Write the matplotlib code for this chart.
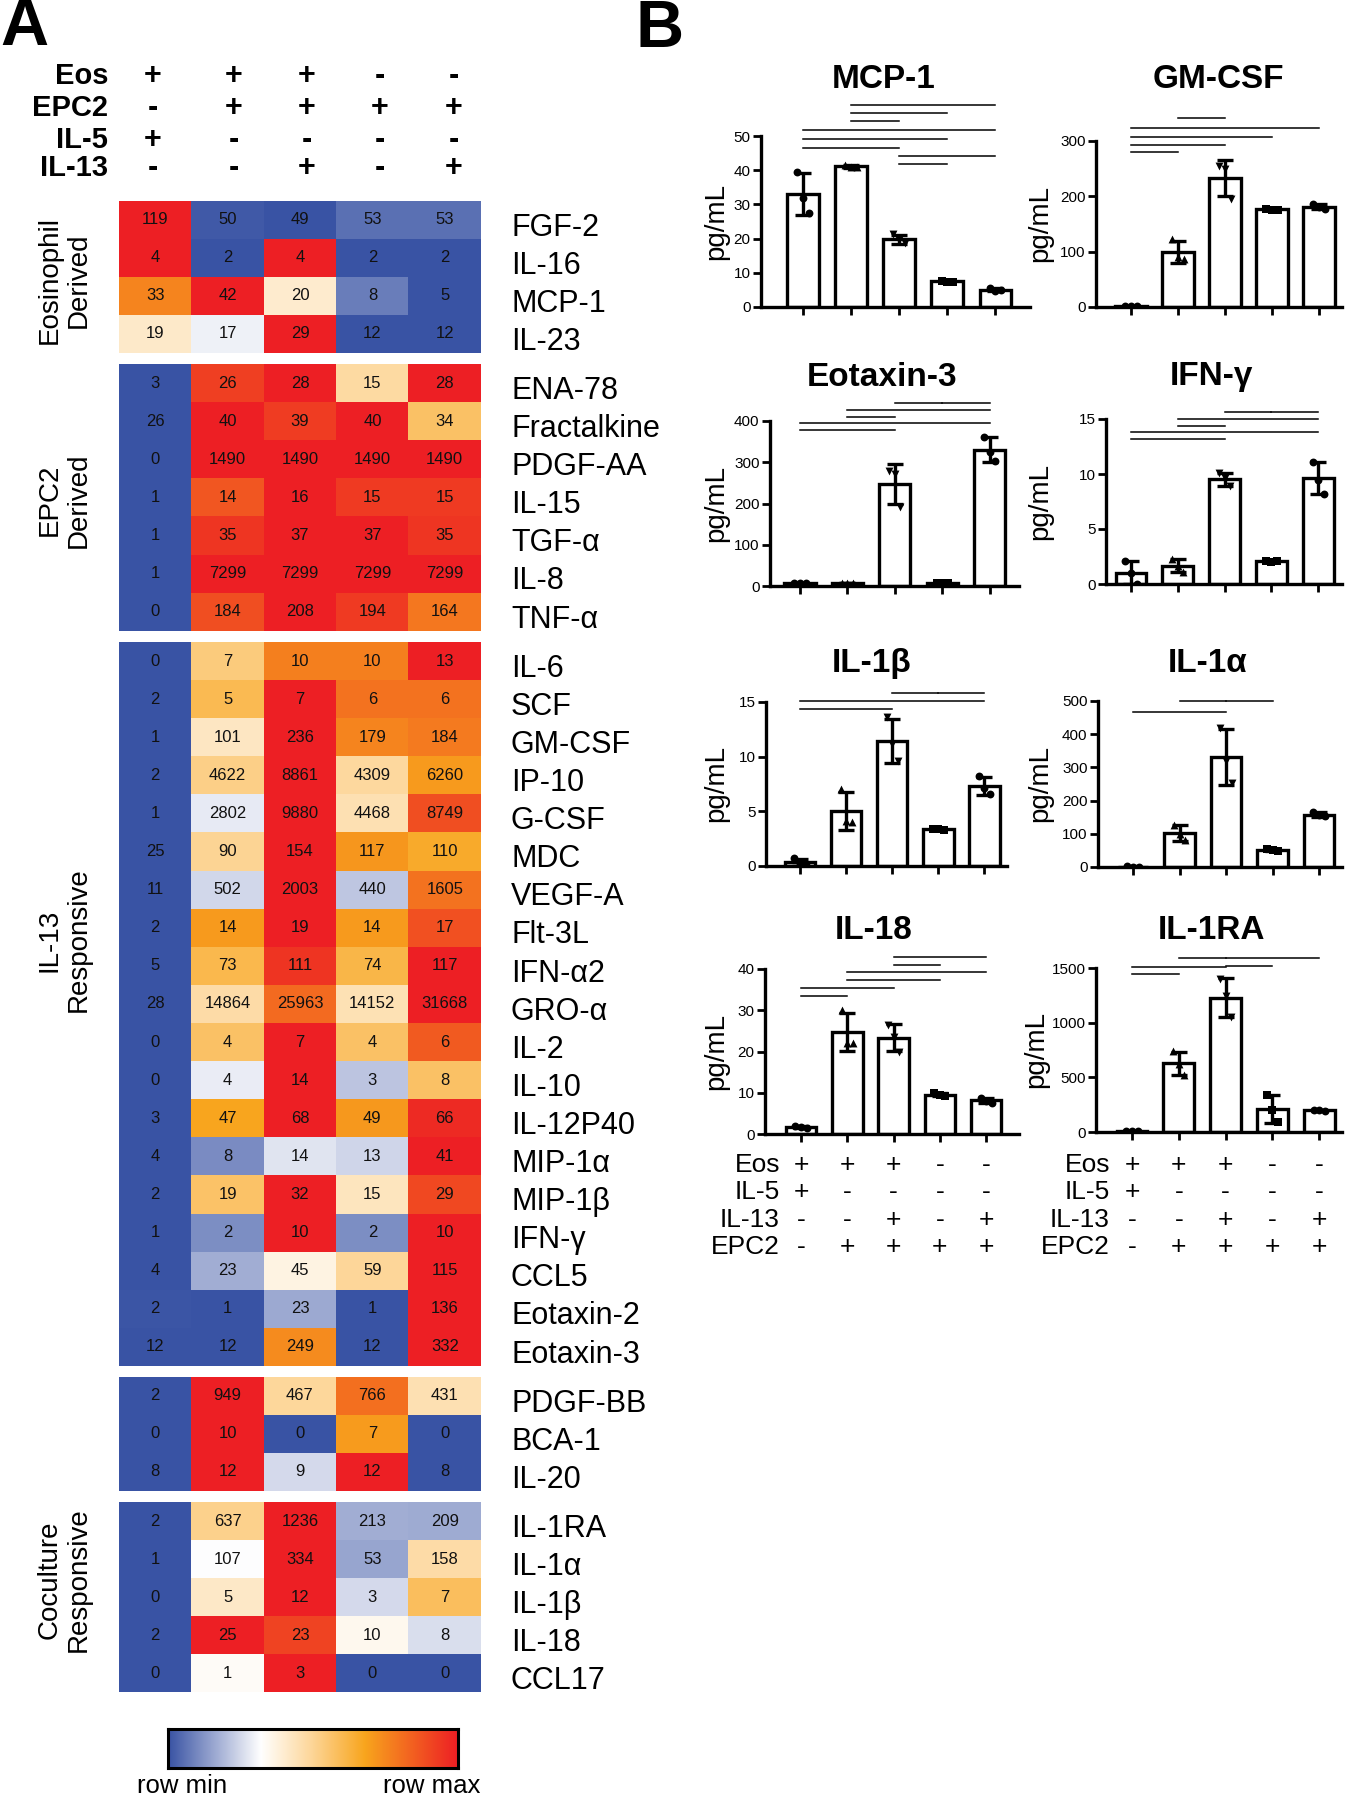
import numpy as np
import matplotlib
matplotlib.use('Agg')
import matplotlib.pyplot as plt
from matplotlib.colors import LinearSegmentedColormap
from matplotlib.transforms import blended_transform_factory

plt.rcParams['font.family'] = ['Liberation Sans', 'DejaVu Sans']

# ---------------- DATA ----------------
header_rows = ['Eos', 'EPC2', 'IL-5', 'IL-13']
header_signs = [['+', '+', '+', '-', '-'],
                ['-', '+', '+', '+', '+'],
                ['+', '-', '-', '-', '-'],
                ['-', '-', '+', '-', '+']]

eos_labels = ['FGF-2', 'IL-16', 'MCP-1', 'IL-23']
eos_values = [[119, 50, 49, 53, 53], [4, 2, 4, 2, 2], [33, 42, 20, 8, 5], [19, 17, 29, 12, 12]]

epc2_labels = ['ENA-78', 'Fractalkine', 'PDGF-AA', 'IL-15', 'TGF-α', 'IL-8', 'TNF-α']
epc2_values = [[3, 26, 28, 15, 28], [26, 40, 39, 40, 34], [0, 1490, 1490, 1490, 1490],
               [1, 14, 16, 15, 15], [1, 35, 37, 37, 35], [1, 7299, 7299, 7299, 7299],
               [0, 184, 208, 194, 164]]

il13_labels = ['IL-6', 'SCF', 'GM-CSF', 'IP-10', 'G-CSF', 'MDC', 'VEGF-A', 'Flt-3L', 'IFN-α2',
               'GRO-α', 'IL-2', 'IL-10', 'IL-12P40', 'MIP-1α', 'MIP-1β', 'IFN-γ', 'CCL5',
               'Eotaxin-2', 'Eotaxin-3']
il13_values = [[0, 7, 10, 10, 13], [2, 5, 7, 6, 6], [1, 101, 236, 179, 184],
               [2, 4622, 8861, 4309, 6260], [1, 2802, 9880, 4468, 8749], [25, 90, 154, 117, 110],
               [11, 502, 2003, 440, 1605], [2, 14, 19, 14, 17], [5, 73, 111, 74, 117],
               [28, 14864, 25963, 14152, 31668], [0, 4, 7, 4, 6], [0, 4, 14, 3, 8],
               [3, 47, 68, 49, 66], [4, 8, 14, 13, 41], [2, 19, 32, 15, 29], [1, 2, 10, 2, 10],
               [4, 23, 45, 59, 115], [2, 1, 23, 1, 136], [12, 12, 249, 12, 332]]

other_labels = ['PDGF-BB', 'BCA-1', 'IL-20']
other_values = [[2, 949, 467, 766, 431], [0, 10, 0, 7, 0], [8, 12, 9, 12, 8]]

cocult_labels = ['IL-1RA', 'IL-1α', 'IL-1β', 'IL-18', 'CCL17']
cocult_values = [[2, 637, 1236, 213, 209], [1, 107, 334, 53, 158], [0, 5, 12, 3, 7],
                 [2, 25, 23, 10, 8], [0, 1, 3, 0, 0]]

group_titles = ['Eosinophil\nDerived', 'EPC2\nDerived', 'IL-13\nResponsive', None, 'Coculture\nResponsive']

# bar charts: three replicate points per condition
bar_titles = ['MCP-1', 'GM-CSF', 'Eotaxin-3', 'IFN-γ', 'IL-1β', 'IL-1α', 'IL-18', 'IL-1RA']
pts_mcp1 = [[39.5, 32.0, 27.5], [41.5, 41.0, 40.8], [21.3, 19.6, 18.7], [7.7, 7.4, 7.3], [5.6, 4.8, 4.9]]
pts_gmcsf = [[2, 1, 1.5], [123, 90, 86], [255, 250, 196], [178, 176, 175], [186, 180, 178]]
pts_eotax3 = [[8, 7, 8], [8, 7, 8], [278, 272, 192], [8, 7, 8], [362, 326, 302]]
pts_ifng = [[2.1, 1.0, 0.0], [2.3, 1.6, 1.1], [10.1, 9.6, 8.9], [2.1, 2.0, 2.05], [11.1, 9.5, 8.2]]
pts_il1b = [[0.7, 0.2, 0.1], [7.0, 4.1, 4.0], [13.6, 11.2, 9.6], [3.4, 3.35, 3.3], [8.2, 7.1, 6.6]]
pts_il1a = [[2, 1, 1], [128, 99, 81], [420, 320, 252], [55, 52, 49], [165, 156, 153]]
pts_il18 = [[2.0, 1.6, 1.5], [30, 22, 22], [26.5, 23.5, 20], [10.0, 9.4, 9.2], [8.8, 8.0, 7.6]]
pts_il1ra = [[10, 5, 5], [740, 620, 525], [1400, 1240, 1050], [340, 200, 88], [205, 198, 190]]

y_ticks = [[0, 10, 20, 30, 40, 50], [0, 100, 200, 300], [0, 100, 200, 300, 400], [0, 5, 10, 15],
           [0, 5, 10, 15], [0, 100, 200, 300, 400, 500], [0, 10, 20, 30, 40], [0, 500, 1000, 1500]]

# significance bars: (from_group, to_group, height)
sig_mcp1 = [(1, 4, 59.2), (1, 3, 56.7), (1, 2, 54.3), (0, 4, 51.7), (0, 3, 49.1), (0, 2, 46.6),
            (2, 4, 44.1), (2, 3, 41.7)]
sig_gmcsf = [(1, 2, 342), (0, 4, 324), (0, 3, 308), (0, 2, 293), (0, 1, 281)]
sig_eotax3 = [(2, 3, 444), (3, 4, 444), (1, 4, 426), (1, 2, 409), (0, 4, 394), (0, 2, 378)]
sig_ifng = [(2, 3, 15.6), (3, 4, 15.6), (1, 4, 15.0), (1, 2, 14.4), (0, 4, 13.8), (0, 2, 13.2)]
sig_il1b = [(2, 3, 15.8), (3, 4, 15.8), (0, 4, 15.1), (0, 2, 14.4)]
sig_il1a = [(1, 2, 501), (2, 3, 501), (0, 2, 468)]
sig_il18 = [(2, 4, 42.8), (2, 3, 41.0), (1, 4, 39.2), (1, 3, 37.3), (0, 2, 35.4), (0, 1, 33.5)]
sig_il1ra = [(1, 2, 1591), (2, 4, 1591), (2, 3, 1515), (0, 2, 1509), (0, 1, 1442)]

bottom_rows = ['Eos', 'IL-5', 'IL-13', 'EPC2']
bottom_signs = [['+', '+', '+', '-', '-'],
                ['+', '-', '-', '-', '-'],
                ['-', '-', '+', '-', '+'],
                ['-', '+', '+', '+', '+']]

# ---------------- FIGURE ----------------
W, H = 1352, 1800
fig = plt.figure(figsize=(W / 100, H / 100), dpi=100)


def box(l, t, r, b):
    return [l / W, 1 - b / H, (r - l) / W, (b - t) / H]


def fx(x):
    return x / W


def fy(y):
    return 1 - y / H


cmap = LinearSegmentedColormap.from_list(
    'rowmap', [(0.0, '#3953a4'), (0.32, '#ffffff'), (0.50, '#fdd596'),
               (0.68, '#f8a51d'), (1.0, '#ed1f24')])

# Panel letters
fig.text(fx(0), fy(28), 'A', fontsize=48, fontweight='bold', ha='left', va='center')
fig.text(fx(636), fy(30), 'B', fontsize=48, fontweight='bold', ha='left', va='center')

# Header
header_x = [153, 234, 307, 380, 454]
header_y = [76, 108, 140, 168]
for r, name in enumerate(header_rows):
    fig.text(fx(108), fy(header_y[r]), name, fontsize=21, fontweight='bold', ha='right', va='center')
    for c, s in enumerate(header_signs[r]):
        fig.text(fx(header_x[c]), fy(header_y[r]), s, fontsize=22, fontweight='bold',
                 ha='center', va='center')

# Heatmap blocks
blocks = [(eos_labels, eos_values), (epc2_labels, epc2_values), (il13_labels, il13_values),
          (other_labels, other_values), (cocult_labels, cocult_values)]
block_px = [(201, 353), (364, 631), (642, 1366), (1377, 1491), (1502, 1692)]
group_label_y = [280, 500, 940, None, 1580]
hx0, hx1 = 119, 481
for bi, (labels, values) in enumerate(blocks):
    vals = np.array(values, dtype=float)
    mn = vals.min(axis=1, keepdims=True)
    mx = vals.max(axis=1, keepdims=True)
    norm = (vals - mn) / np.where(mx - mn == 0, 1, mx - mn)
    t, b = block_px[bi]
    ax = fig.add_axes(box(hx0, t, hx1, b))
    ax.imshow(norm, cmap=cmap, vmin=0, vmax=1, aspect='auto', interpolation='nearest')
    ax.set_xticks([])
    ax.set_yticks([])
    for sp in ax.spines.values():
        sp.set_visible(False)
    for i in range(vals.shape[0]):
        for j in range(vals.shape[1]):
            ax.text(j, i, f'{int(values[i][j])}', ha='center', va='center', fontsize=12, color='#111111')
    tr = blended_transform_factory(fig.transFigure, ax.transData)
    for i, lab in enumerate(labels):
        ax.text(fx(511), i + 0.2, lab, transform=tr, ha='left', va='center', fontsize=22)
    if group_titles[bi] is not None:
        fig.text(fx(64), fy(group_label_y[bi]), group_titles[bi], rotation=90, ha='center',
                 va='center', fontsize=20, multialignment='center', linespacing=1.15)

# Color scale bar
cax = fig.add_axes(box(168, 1729, 458, 1768))
cax.imshow(np.linspace(0, 1, 256)[None, :], cmap=cmap, aspect='auto')
cax.set_xticks([])
cax.set_yticks([])
for sp in cax.spines.values():
    sp.set_linewidth(2.2)
    sp.set_color('black')
fig.text(fx(182), fy(1786), 'row min', fontsize=18.5, ha='center', va='center')
fig.text(fx(432), fy(1786), 'row max', fontsize=18.5, ha='center', va='center')

# Bar charts
all_pts = [pts_mcp1, pts_gmcsf, pts_eotax3, pts_ifng, pts_il1b, pts_il1a, pts_il18, pts_il1ra]
all_sig = [sig_mcp1, sig_gmcsf, sig_eotax3, sig_ifng, sig_il1b, sig_il1a, sig_il18, sig_il1ra]
# layout: yaxis_x, x_axis_right, first tick x, tick spacing, y0 px, ytop px
layout = [(761, 1030, 803, 48.1, 307, 136), (1096, 1342, 1131, 47.0, 307, 141),
          (770, 1019, 800, 47.4, 586, 421), (1106, 1342, 1131, 46.8, 584, 419),
          (766, 1007, 800, 46.1, 866, 702), (1098, 1342, 1133, 46.5, 867, 701),
          (765, 1019, 801, 46.3, 1134, 969), (1096, 1342, 1132, 46.8, 1132, 968)]
title_pos = [(884, 80), (1218, 80), (882, 377), (1212, 377), (872, 663), (1208, 663),
             (874, 930), (1212, 930)]
ylabel_x = [716, 1040, 716, 1040, 716, 1040, 716, 1036]
markers = ['o', '^', 'v', 's', 'o']
lw = 2.4
for k in range(8):
    yx, rx, t0, sp_, y0, yt = layout[k]
    ax = fig.add_axes(box(yx, yt, rx, y0))
    pts = np.array(all_pts[k], dtype=float)
    means = pts.mean(axis=1)
    sds = pts.std(axis=1, ddof=1)
    xs = np.arange(5)
    ax.bar(xs, means, width=0.66, color='white', edgecolor='black', linewidth=lw, zorder=2)
    for i in range(5):
        ax.scatter(np.full(3, i) + np.array([-0.12, 0.0, 0.12]), pts[i], marker=markers[i],
                   s=32, color='black', zorder=3, linewidths=0)
    ax.errorbar(xs, means, yerr=sds, fmt='none', ecolor='black', elinewidth=lw, capsize=6,
                capthick=lw, zorder=4)
    ax.set_xlim((yx - t0) / sp_, (rx - t0) / sp_)
    yticks = y_ticks[k]
    ax.set_ylim(0, yticks[-1])
    ax.set_yticks(yticks)
    ax.set_xticks(xs)
    ax.set_xticklabels([])
    ax.tick_params(axis='both', direction='out', length=6, width=2, labelsize=11, pad=1.5)
    for s in ['top', 'right']:
        ax.spines[s].set_visible(False)
    for s in ['left', 'bottom']:
        ax.spines[s].set_linewidth(lw)
    ax.patch.set_visible(False)
    for (a, b, h) in all_sig[k]:
        ax.plot([a, b], [h, h], color='black', lw=1.1, clip_on=False, zorder=5)
    fig.text(fx(title_pos[k][0]), fy(title_pos[k][1]), bar_titles[k], fontsize=24,
             fontweight='bold', ha='center', va='center')
    fig.text(fx(ylabel_x[k]), fy((y0 + yt) / 2), 'pg/mL', rotation=90, fontsize=20,
             ha='center', va='center')
    if k >= 6:
        trb = blended_transform_factory(ax.transData, fig.transFigure)
        lab_x = 780 if k == 6 else 1110
        for r, name in enumerate(bottom_rows):
            yy = fy(1165 + 27.3 * r)
            fig.text(fx(lab_x), yy, name, fontsize=19, ha='right', va='center')
            for c, s in enumerate(bottom_signs[r]):
                ax.text(c, yy, s, transform=trb, fontsize=19, ha='center', va='center')

fig.savefig('out.png', dpi=100)
